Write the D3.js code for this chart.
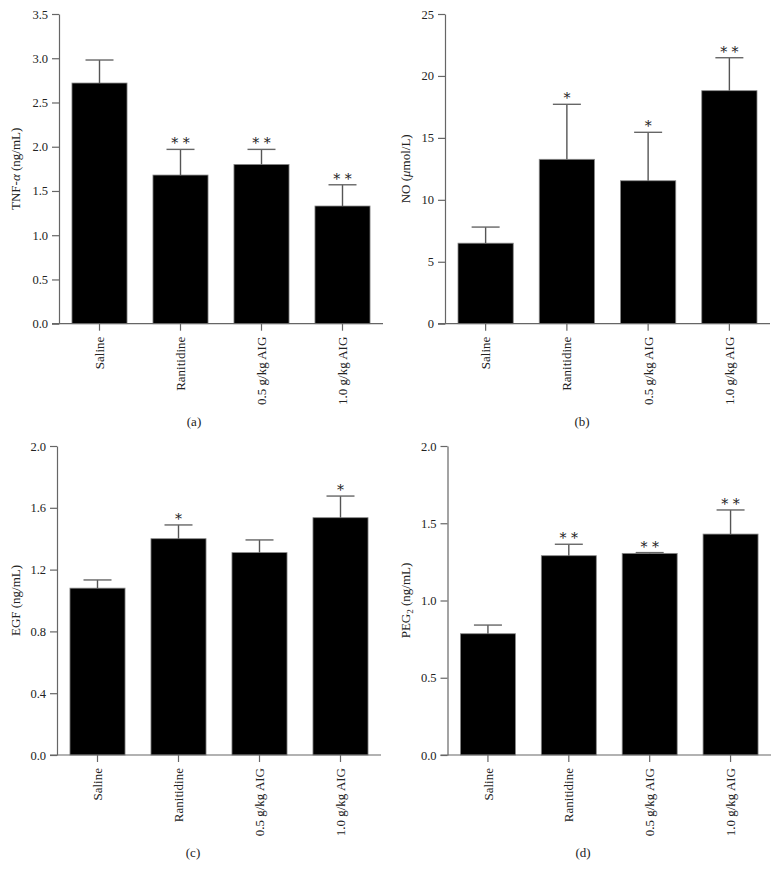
<!DOCTYPE html>
<html>
<head>
<meta charset="utf-8">
<script src="https://cdn.jsdelivr.net/npm/d3@7"></script>
<style>
  html, body { margin: 0; padding: 0; background: #fff; }
  svg { display: block; }
  text { font-family: "Liberation Serif", "DejaVu Serif", serif; fill: #222; }
</style>
</head>
<body>
<svg id="chart" width="779" height="880"></svg>
<script>
// ---------- data ----------
const categories = ["Saline", "Ranitidine", "0.5 g/kg AIG", "1.0 g/kg AIG"];

const tnfMeans = [2.72, 1.68, 1.80, 1.33];
const tnfUpper = [2.98, 1.97, 1.97, 1.57];
const tnfStars = ["", "**", "**", "**"];
const tnfTicks = [0.0, 0.5, 1.0, 1.5, 2.0, 2.5, 3.0, 3.5];

const noMeans = [6.5, 13.27, 11.54, 18.81];
const noUpper = [7.8, 17.71, 15.45, 21.47];
const noStars = ["", "*", "*", "**"];
const noTicks = [0, 5, 10, 15, 20, 25];

const egfMeans = [1.08, 1.40, 1.31, 1.536];
const egfUpper = [1.133, 1.489, 1.392, 1.676];
const egfStars = ["", "*", "", "*"];
const egfTicks = [0.0, 0.4, 0.8, 1.2, 1.6, 2.0];

const pegMeans = [0.785, 1.29, 1.305, 1.43];
const pegUpper = [0.841, 1.364, 1.31, 1.586];
const pegStars = ["", "**", "**", "**"];
const pegTicks = [0.0, 0.5, 1.0, 1.5, 2.0];

const panelLabels = ["(a)", "(b)", "(c)", "(d)"];

// ---------- drawing ----------
const svg = d3.select("#chart");
const axisColor = "#666";
const serif = '"Liberation Serif", "DejaVu Serif", serif';

function drawPanel(cfg) {
  const g = svg.append("g");
  const x = d3.scaleBand().domain(categories).range([cfg.x0, cfg.x1])
    .paddingInner(0.32).paddingOuter(0.16);
  const y = d3.scaleLinear().domain([0, cfg.max]).range([cfg.yBottom, cfg.yTop]);

  // bars
  g.selectAll("rect.bar").data(cfg.means).join("rect")
    .attr("x", (d, i) => x(categories[i]))
    .attr("y", d => y(d))
    .attr("width", x.bandwidth())
    .attr("height", d => y(0) - y(d))
    .attr("fill", "#000")
    .attr("stroke", "#888")
    .attr("stroke-width", 0.8);

  // error bars
  const cx = i => x(categories[i]) + x.bandwidth() / 2;
  g.selectAll("line.err").data(cfg.upper).join("line")
    .attr("x1", (d, i) => cx(i)).attr("x2", (d, i) => cx(i))
    .attr("y1", (d, i) => y(cfg.means[i])).attr("y2", d => y(d))
    .attr("stroke", "#555").attr("stroke-width", 1.4);
  g.selectAll("line.cap").data(cfg.upper).join("line")
    .attr("x1", (d, i) => cx(i) - 14).attr("x2", (d, i) => cx(i) + 14)
    .attr("y1", d => y(d)).attr("y2", d => y(d))
    .attr("stroke", "#666").attr("stroke-width", 1.4);

  // significance stars
  g.selectAll("text.star").data(cfg.stars).join("text")
    .attr("x", (d, i) => cx(i))
    .attr("y", (d, i) => y(cfg.upper[i]) - 1)
    .attr("text-anchor", "middle")
    .attr("font-size", 14)
    .attr("fill", "#444")
    .style("font-family", '"DejaVu Serif", serif')
    .text(d => d.split("").join(" "));

  // y axis
  const yAxis = d3.axisLeft(y).tickValues(cfg.ticks).tickFormat(cfg.fmt)
    .tickSize(7).tickSizeOuter(0).tickPadding(4);
  const ya = g.append("g").attr("transform", `translate(${cfg.x0},0)`).call(yAxis);
  ya.attr("font-family", serif);
  ya.selectAll("path, line").attr("stroke", axisColor).attr("stroke-width", 1.2);
  ya.selectAll("text").attr("font-size", 12.5).attr("fill", "#222");

  // x axis baseline (extends left to the y-axis tick)
  g.append("line")
    .attr("x1", cfg.x0 - 7).attr("x2", cfg.x1)
    .attr("y1", y(0)).attr("y2", y(0))
    .attr("stroke", axisColor).attr("stroke-width", 1.2);
  g.selectAll("line.xt").data(categories).join("line")
    .attr("x1", d => x(d) + x.bandwidth() / 2).attr("x2", d => x(d) + x.bandwidth() / 2)
    .attr("y1", y(0)).attr("y2", y(0) + 7)
    .attr("stroke", axisColor).attr("stroke-width", 1.2);
  g.selectAll("text.xl").data(categories).join("text")
    .attr("transform", d => `translate(${x(d) + x.bandwidth() / 2},${y(0) + 13}) rotate(-90)`)
    .attr("text-anchor", "end")
    .attr("dy", "0.35em")
    .attr("font-size", 13)
    .text(d => d);

  // y title
  const t = g.append("text")
    .attr("transform", `translate(${cfg.titleX},${(cfg.yTop + cfg.yBottom) / 2}) rotate(-90)`)
    .attr("text-anchor", "middle")
    .attr("dy", "0.35em")
    .attr("font-size", 13);
  cfg.title(t);

  // panel label
  g.append("text")
    .attr("x", cfg.labelX).attr("y", cfg.labelY)
    .attr("text-anchor", "middle")
    .attr("font-size", 13)
    .text(cfg.label);
}

const f1 = d3.format(".1f");
const f0 = d3.format("d");

drawPanel({
  means: tnfMeans, upper: tnfUpper, stars: tnfStars, ticks: tnfTicks, fmt: f1, max: 3.5,
  x0: 59, x1: 383, yTop: 14, yBottom: 323.7, titleX: 15,
  title: t => { t.append("tspan").text("TNF-"); t.append("tspan").style("font-style", "italic").text("α"); t.append("tspan").text(" (ng/mL)"); },
  label: panelLabels[0], labelX: 194, labelY: 426
});
drawPanel({
  means: noMeans, upper: noUpper, stars: noStars, ticks: noTicks, fmt: f0, max: 25,
  x0: 445, x1: 770, yTop: 14, yBottom: 323.7, titleX: 405,
  title: t => { t.append("tspan").text("NO ("); t.append("tspan").style("font-style", "italic").text("μ"); t.append("tspan").text("mol/L)"); },
  label: panelLabels[1], labelX: 582, labelY: 426
});
drawPanel({
  means: egfMeans, upper: egfUpper, stars: egfStars, ticks: egfTicks, fmt: f1, max: 2.0,
  x0: 57, x1: 381, yTop: 446, yBottom: 755, titleX: 15,
  title: t => { t.text("EGF (ng/mL)"); },
  label: panelLabels[2], labelX: 193, labelY: 857
});
drawPanel({
  means: pegMeans, upper: pegUpper, stars: pegStars, ticks: pegTicks, fmt: f1, max: 2.0,
  x0: 447.5, x1: 771, yTop: 446, yBottom: 755, titleX: 405,
  title: t => { t.append("tspan").text("PEG"); t.append("tspan").attr("font-size", 9).attr("dy", "3").text("2"); t.append("tspan").attr("dy", "-3").text(" (ng/mL)"); },
  label: panelLabels[3], labelX: 583, labelY: 857
});
</script>
</body>
</html>
